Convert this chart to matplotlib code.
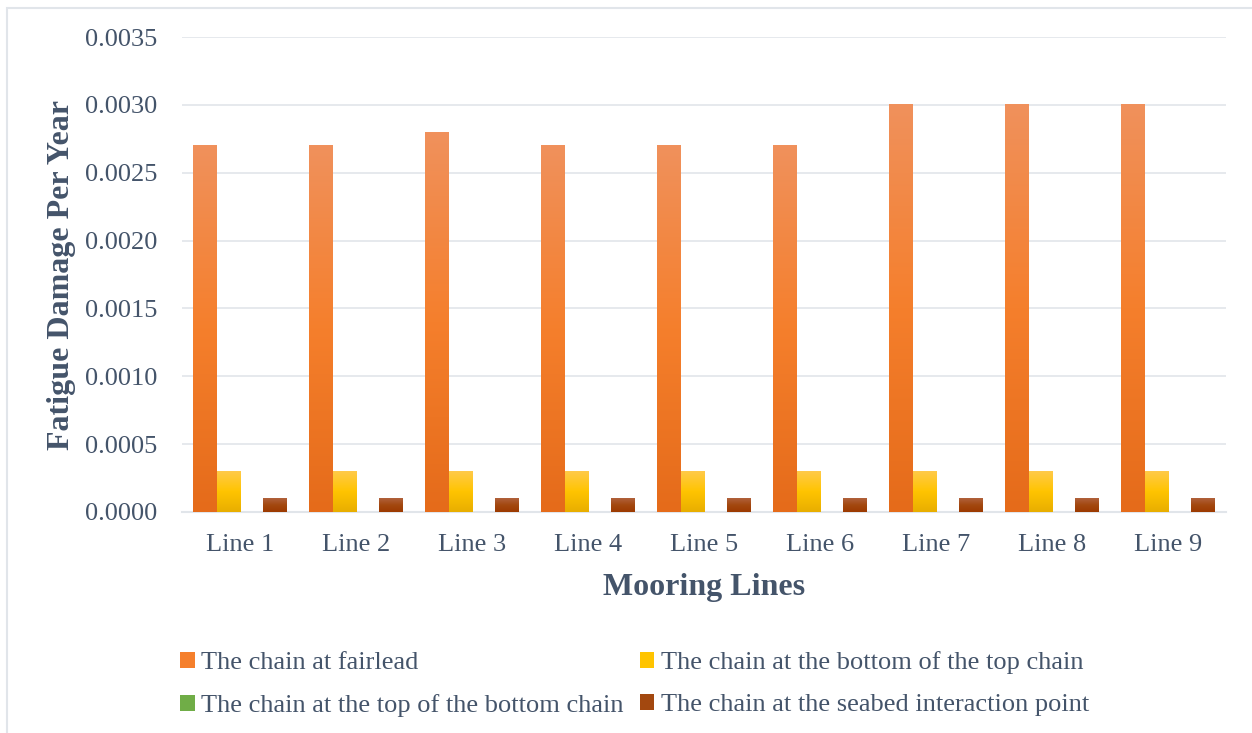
import matplotlib.pyplot as plt
import numpy as np
from matplotlib.colors import LinearSegmentedColormap
from matplotlib.patches import Rectangle

plt.rcParams['font.family'] = ['Liberation Serif', 'DejaVu Serif']

lines = ['Line 1', 'Line 2', 'Line 3', 'Line 4', 'Line 5', 'Line 6', 'Line 7', 'Line 8', 'Line 9']
fairlead = [0.0027, 0.0027, 0.0028, 0.0027, 0.0027, 0.0027, 0.0030, 0.0030, 0.0030]
bottom_of_top = [0.0003] * 9
top_of_bottom = [0.0] * 9
seabed_point = [0.0001] * 9
series_names = ['The chain at fairlead',
                'The chain at the bottom of the top chain',
                'The chain at the top of the bottom chain',
                'The chain at the seabed interaction point']
series = [fairlead, bottom_of_top, top_of_bottom, seabed_point]

# gradient stops per series: bottom, middle, top
grads = [['#E56B1A', '#F57F2C', '#F0915C'],
         ['#E8AE00', '#FFC400', '#FFCA4A'],
         ['#5E9E2E', '#70AD47', '#86B865'],
         ['#9C3A00', '#A3480F', '#B0613C']]
cmaps = [LinearSegmentedColormap.from_list('g%d' % i, g) for i, g in enumerate(grads)]

txt = '#44546A'
grid_c = '#E1E5EA'

fig = plt.figure(figsize=(12.52, 7.33), dpi=100)
ax = fig.add_axes([182 / 1252, 1 - 512 / 733, (1226 - 182) / 1252, (512 - 37) / 733])

# chart-area border (only left/top visible)
fig.patches.append(Rectangle((7 / 1252, -0.1), 1.2, (733 - 8) / 733 + 0.1,
                             transform=fig.transFigure, fill=False,
                             edgecolor=grid_c, linewidth=1.5))

x = np.arange(len(lines))
w = 0.2025
grad = np.linspace(0, 1, 256).reshape(-1, 1)
for i, (vals, cm) in enumerate(zip(series, cmaps)):
    offs = (i - 1.5) * w
    for xi, v in zip(x, vals):
        if v <= 0:
            continue
        ax.imshow(grad, cmap=cm, origin='lower', aspect='auto',
                  extent=(xi + offs - w / 2, xi + offs + w / 2, 0, v), zorder=3)

ax.set_xlim(-0.5, len(lines) - 0.5)
ax.set_ylim(0, 0.0035)
ax.set_yticks(np.arange(0, 0.00351, 0.0005))
ax.set_yticklabels(['%.4f' % t for t in np.arange(0, 0.00351, 0.0005)])
ax.set_xticks(x)
ax.set_xticklabels(lines)
ax.tick_params(axis='both', length=0, labelsize=19, colors=txt)
ax.tick_params(axis='y', pad=18)
ax.tick_params(axis='x', pad=16)
ax.grid(axis='y', color=grid_c, linewidth=1.2, zorder=0)
for s in ['top', 'right', 'left']:
    ax.spines[s].set_visible(False)
ax.spines['bottom'].set_color(grid_c)
ax.spines['bottom'].set_linewidth(1.5)

ax.set_xlabel('Mooring Lines', fontsize=23, fontweight='bold', color=txt, labelpad=12)
ax.set_ylabel('Fatigue Damage Per Year', fontsize=23, fontweight='bold', color=txt, labelpad=6)

# legend fills column-wise, so order handles to read row by row
order = [0, 2, 1, 3]
handles = [Rectangle((0, 0), 1, 1, facecolor=grads[k][1]) for k in order]
fig.legend(handles, [series_names[k] for k in order], loc='upper left',
           bbox_to_anchor=(167 / 1252, 1 - 638 / 733),
           ncol=2, frameon=False, fontsize=19, labelcolor=txt, handlelength=0.55,
           handleheight=0.55, handletextpad=0.25, columnspacing=0.6, labelspacing=0.75,
           borderpad=0)

fig.savefig('out.png', dpi=100, facecolor='white')
